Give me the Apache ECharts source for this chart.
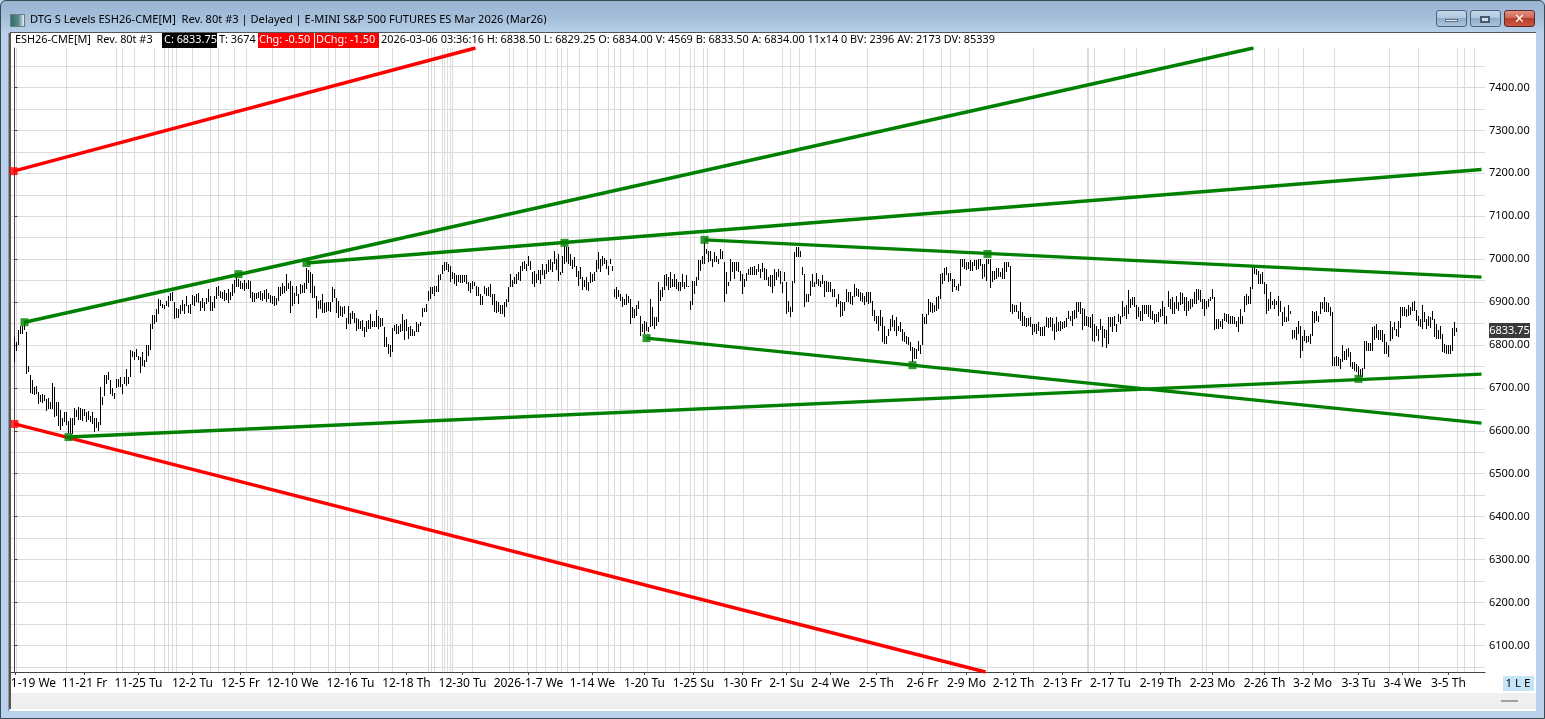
<!DOCTYPE html>
<html><head><meta charset="utf-8">
<script src="https://cdn.jsdelivr.net/npm/echarts@6/dist/echarts.min.js"></script>
<style>
html,body{margin:0;padding:0;background:#fff;overflow:hidden}
#win{position:absolute;left:0;top:0;width:1545px;height:719px;background:#b9d1ea;overflow:hidden}
#frame{position:absolute;left:0;top:0;width:1543px;height:717px;border:1px solid #3a4a55;border-radius:6px 6px 0 0;background:linear-gradient(#9ab5d3 0,#a4bdd9 16px,#b9d1ea 32px,#b9d1ea 100%)}
#client{position:absolute;left:10px;top:32px;width:1526px;height:679px;background:#fff;border-top:1px solid #555;box-sizing:border-box}
#strip{position:absolute;left:10px;top:693px;width:1526px;height:16px;background:#efefef}
#lb{position:absolute;left:9px;top:33px;width:2px;height:676px;background:#555}
#lb2{position:absolute;left:8px;top:33px;width:1px;height:678px;background:#8b98a5}
.btn{position:absolute;top:10px;height:17px;border:1px solid #4f6379;border-radius:3px;background:linear-gradient(#c3d6ea 0,#b0c8e0 45%,#8fadc9 50%,#aac4de 100%);box-sizing:border-box}
#close{background:linear-gradient(#e0907f 0,#d0685a 45%,#b6402c 50%,#c9553f 100%);border-color:#5a2a2a}
#ming{position:absolute;left:1445px;top:19px;width:11px;height:1px;background:#e8eef5;border:1px solid #5d6f83}
#maxg{position:absolute;left:1480px;top:16px;width:6px;height:3px;border:2px solid #47596c;background:#cfdeee}
#icon{position:absolute;left:10px;top:14px;width:13px;height:11px;background:linear-gradient(90deg,#2e6e68 0,#5a8d8f 60%,#e8eef3 100%);border:1px solid #6b7a85}
#badge{position:absolute;left:1503px;top:676px;width:31px;height:15px;background:#c6e4f7}
#dash{position:absolute;left:1501px;top:700px;width:17px;height:2px;background:#a0a0a0}
#main{position:absolute;left:0;top:0;width:1545px;height:719px}
</style></head><body>
<div id="win">
<div id="frame"></div><div id="client"></div><div id="strip"></div><div id="lb2"></div><div id="lb"></div>
<div id="icon"></div>
<div class="btn" style="left:1436px;width:31px"></div><div id="ming"></div>
<div class="btn" style="left:1470px;width:31px"></div><div id="maxg"></div>
<div class="btn" id="close" style="left:1504px;width:31px"></div>
<div id="badge"></div><div id="dash"></div>
<div id="main"></div>
</div>
<script>
var highs=[6818,6806,6834,6845,6845,6857,6830,6752,6731,6718,6703,6705,6690,6684,6686,6684,6674,6676,6666,6712,6701,6666,6666,6649,6630,6643,6643,6622,6630,6630,6653,6649,6656,6653,6651,6651,6643,6645,6635,6643,6630,6630,6620,6703,6678,6729,6731,6736,6718,6700,6687,6721,6721,6725,6709,6726,6744,6726,6788,6787,6783,6791,6775,6771,6783,6764,6799,6799,6848,6869,6869,6884,6907,
6905,6895,6893,6903,6914,6922,6924,6899,6887,6883,6893,6905,6895,6914,6893,6895,6916,6914,6918,6922,6903,6910,6900,6910,6931,6914,6899,6914,6936,6938,6926,6924,6928,6921,6931,6924,6941,6952,6962,6953,6949,6945,6952,6944,6952,6949,6924,6921,6922,6924,6926,6921,6928,6930,6922,6916,6914,6914,6910,6936,6936,6945,6938,6966,6945,6949,6938,6922,6938,6918,6941,6939,6945,6980,6975,6970,6965,6938,6914,6903,6905,6918,6897,6899,6900,6899,6934,6930,6910,6903,6891,6889,6891,6864,6891,6875,6879,6875,6864,6861,
6857,6858,6841,6857,6858,6872,6857,6857,6882,6868,6863,6863,6843,6818,6802,6799,6840,6847,6849,6845,6849,6872,6858,6861,6841,6845,6837,6833,6853,6849,6853,6886,6886,6896,6925,6936,6936,6938,6938,6964,6966,6987,6993,6994,6989,6985,6969,6967,6962,6962,6962,6962,6962,6962,6946,6944,6950,6946,6938,6934,6919,6915,6938,6933,6934,6941,6919,6919,6903,6900,6894,6892,6900,6907,6936,6966,6952,6958,6966,6969,6985,6993,6995,6989,7008,6995,6969,6973,6966,6975,6975,6989,6975,6989,6998,7001,6993,7018,7001,7012,6969,7008,7032,7028,7028,7012,6997,7004,6985,6973,6981,6958,6952,6958,6946,6969,6966,6969,6997,7016,7001,7008,7003,6998,6985,7001,6985,6931,6934,6927,6919,6911,6907,6919,6915,6907,6888,6884,6892,6903,6868,6849,6857,6853,6841,6907,6888,6866,6866,6946,6927,6934,6962,6966,6958,6969,6954,6966,6954,6946,6946,6966,6946,6962,6938,6903,6950,6950,6958,6997,6997,7008,7039,7024,7018,7018,7001,7016,7008,7001,
7024,7020,6993,6969,6946,7001,6993,6993,6993,6993,6973,6966,6954,6967,6977,6981,6981,6985,6977,6989,6977,6990,6980,6977,6958,6962,6962,6977,6969,6977,6973,6946,6969,6946,6903,6888,6948,7016,7028,7028,7020,6981,6966,6919,6919,6950,6966,6946,6967,6954,6950,6962,6950,6950,6946,6946,6931,6931,6907,6919,6903,6900,6900,6931,6923,6923,6915,6942,6933,6931,6923,6921,6915,6923,6923,6923,6903,6882,6868,6868,6882,6866,6845,6822,6837,6861,6871,6858,6865,6845,6853,6837,6830,6822,6818,6806,6795,6793,6791,6809,6799,6872,6866,6872,6907,6900,6897,6892,6911,6913,6966,6967,6980,6981,6967,6967,6954,6954,6938,6942,7001,7001,7001,6993,6993,6997,6993,6997,6997,7001,7001,6989,6989,7001,7001,7001,6973,6973,6980,6980,6969,6980,6993,6993,6993,6983,6896,6894,6892,6880,6900,6876,6868,6863,6863,6865,6849,6849,6849,6853,6841,6841,6845,6866,6863,6866,6863,6849,6865,6853,6855,6853,6857,6863,6880,6868,6880,6882,6900,6900,
6900,6886,6884,6868,6866,6866,6872,6849,6845,6837,6861,6845,6837,6835,6866,6865,6865,6868,6849,6872,6868,6903,6888,6892,6927,6907,6911,6911,6892,6888,6880,6892,6892,6892,6892,6892,6880,6872,6872,6876,6884,6903,6888,6868,6925,6907,6911,6900,6915,6900,6923,6921,6911,6911,6903,6907,6907,6923,6931,6931,6927,6907,6907,6903,6907,6911,6931,6911,6861,6861,6857,6861,6874,6872,6872,6868,6868,6865,6857,6865,6884,6868,6915,6919,6915,6936,6981,6985,6977,6972,6966,6969,6946,6942,6907,6923,6903,6907,6903,6915,6903,6876,6888,6865,6894,6880,6834,6834,6841,6857,6845,6822,6834,6822,6820,6826,6879,6876,6880,6868,6900,6900,6911,6900,6897,6888,6876,6773,6775,6771,6767,6801,6787,6791,6793,6783,6760,6760,6756,6752,6744,6746,6809,6809,6804,6804,6843,6845,6849,6835,6834,6834,6826,6806,6801,6855,6841,6853,6837,6857,6888,6888,6888,6884,6892,6888,6900,6902,6882,6868,6861,6894,6876,6861,6868,6866,6879,6861,6848,6834,6845,6826,6802,6799,6799,6799,6840,6853,6840];
var lows=[6760,6787,6799,6826,6826,6834,6733,6736,6687,6686,6684,6686,6663,6666,6664,6670,6647,6651,6651,6651,6633,6635,6612,6602,6612,6620,6614,6594,6593,6593,6614,6633,6625,6625,6624,6635,6620,6625,6620,6616,6597,6607,6600,6614,6659,6682,6708,6719,6686,6682,6674,6700,6701,6701,6686,6709,6705,6709,6726,6771,6764,6773,6765,6734,6750,6748,6760,6775,6788,6837,6849,6853,6872,
6891,6887,6883,6891,6889,6903,6903,6861,6864,6864,6872,6879,6872,6891,6875,6872,6893,6891,6899,6897,6879,6887,6879,6895,6899,6879,6879,6887,6907,6913,6910,6907,6903,6905,6897,6905,6914,6922,6934,6934,6930,6930,6926,6930,6930,6910,6900,6899,6907,6910,6905,6903,6907,6900,6907,6897,6895,6891,6893,6903,6914,6918,6922,6926,6930,6875,6891,6895,6914,6895,6918,6921,6922,6931,6945,6922,6910,6910,6864,6883,6883,6875,6874,6877,6879,6877,6899,6910,6875,6864,6868,6866,6872,6837,6848,6848,6860,6852,6833,6837,
6837,6833,6818,6830,6837,6837,6841,6841,6841,6837,6841,6845,6795,6796,6779,6773,6783,6833,6826,6826,6830,6833,6812,6833,6814,6820,6820,6820,6830,6830,6845,6866,6876,6876,6902,6907,6919,6913,6923,6923,6952,6966,6973,6975,6969,6946,6954,6942,6938,6946,6944,6944,6946,6942,6925,6921,6931,6938,6915,6915,6892,6894,6919,6915,6913,6911,6894,6876,6874,6876,6872,6872,6866,6888,6900,6934,6934,6941,6942,6952,6950,6973,6977,6973,6985,6975,6942,6936,6944,6952,6942,6962,6954,6966,6969,6975,6969,6989,6975,6950,6964,6967,6989,6993,6989,6985,6977,6981,6958,6938,6954,6928,6934,6927,6925,6944,6946,6950,6969,6977,6969,6985,6989,6977,6962,6989,6973,6911,6907,6911,6902,6888,6892,6892,6897,6849,6863,6863,6868,6884,6822,6830,6826,6833,6830,6841,6845,6837,6845,6853,6903,6911,6928,6938,6927,6933,6934,6934,6931,6925,6925,6934,6931,6934,6934,6882,6892,6919,6938,6952,6972,6989,6989,7011,6993,6995,6981,6993,6993,6989,
7001,7001,6900,6919,6938,6950,6969,6954,6972,6969,6950,6919,6934,6950,6962,6962,6962,6963,6962,6969,6956,6969,6952,6952,6938,6934,6921,6938,6952,6958,6942,6921,6950,6872,6876,6865,6876,6944,7004,7006,7004,6962,6888,6900,6900,6915,6934,6934,6942,6938,6934,6942,6911,6923,6923,6923,6911,6911,6889,6896,6865,6868,6880,6900,6900,6896,6892,6911,6915,6911,6903,6900,6892,6900,6896,6897,6868,6857,6849,6832,6845,6806,6802,6802,6820,6833,6841,6833,6822,6833,6830,6810,6806,6802,6799,6787,6760,6767,6767,6787,6779,6799,6849,6849,6871,6876,6874,6876,6880,6884,6907,6942,6950,6962,6946,6950,6923,6936,6927,6925,6938,6981,6977,6975,6977,6973,6972,6985,6975,6977,6985,6954,6959,6950,6989,6933,6946,6952,6954,6958,6959,6954,6954,6969,6981,6876,6872,6876,6876,6861,6857,6845,6845,6841,6845,6841,6824,6830,6826,6833,6821,6820,6822,6841,6840,6841,6833,6812,6830,6832,6833,6837,6840,6841,6861,6855,6845,6861,6863,6876,
6872,6835,6845,6845,6843,6840,6810,6806,6820,6810,6834,6796,6816,6793,6802,6841,6830,6845,6830,6853,6849,6865,6868,6861,6872,6886,6892,6888,6861,6865,6857,6857,6872,6872,6865,6861,6858,6848,6853,6853,6865,6868,6849,6848,6888,6884,6872,6872,6884,6880,6892,6896,6880,6868,6880,6884,6888,6896,6896,6905,6900,6884,6868,6884,6888,6903,6907,6834,6837,6837,6841,6837,6855,6853,6848,6848,6849,6848,6841,6830,6849,6849,6876,6892,6896,6896,6931,6966,6962,6942,6942,6942,6919,6872,6880,6884,6892,6884,6892,6868,6876,6845,6853,6853,6857,6872,6814,6816,6812,6826,6770,6787,6810,6804,6806,6802,6822,6851,6855,6853,6872,6884,6876,6876,6876,6868,6752,6752,6752,6752,6744,6760,6764,6764,6771,6748,6744,6740,6736,6725,6725,6726,6744,6787,6787,6787,6787,6812,6816,6812,6812,6806,6779,6779,6773,6810,6814,6834,6822,6818,6840,6868,6868,6866,6868,6871,6880,6880,6857,6845,6841,6837,6853,6837,6845,6840,6858,6818,6814,6814,6814,6783,6781,6779,6779,6778,6785,6822,6830];

var tickBars=[0.5,35,62,89,113,139,168,196,224,257,289,315,339.5,364,386,408,431,454,476,499.5,524,548,573,599,625,649,672,694,717];
var tickLabels=['1-19 We','11-21 Fr','11-25 Tu','12-2 Tu','12-5 Fr','12-10 We','12-16 Tu','12-18 Th','12-30 Tu','2026-1-7 We','1-14 We','1-20 Tu','1-25 Su','1-30 Fr','2-1 Su','2-4 We','2-5 Th','2-6 Fr','2-9 Mo','2-12 Th','2-13 Fr','2-17 Tu','2-19 Th','2-23 Mo','2-26 Th','3-2 Mo','3-3 Tu','3-4 We','3-5 Th'];
var sessionBars=[1,26,51,54,60,70,75,77,79,81,89,98,102,110,116,129,140,148,157,160.5,167.5,182,189,207,208.5,210,214,215,216.5,218,219,229,247.5,249.5,256.5,261,265.5,271.5,273.5,276.5,282.5,291.5,297,300,303,309.5,316.5,325.5,332.5,338,340,344.5,346.5,355,364.5,384,388,392.5,400.5,426.5,454.5,463.5,468,477.5,486.5,509.5,536.5,537,540,555,561,575,594,596,607,619,625,632,644.5,660,687.5,702,721.5,725,730];
var priceLabels=[6100,6200,6300,6400,6500,6600,6700,6800,6900,7000,7100,7200,7300,7400];
var priceGrid=[6050,6100,6150,6200,6250,6300,6350,6400,6450,6500,6550,6600,6650,6700,6750,6800,6850,6900,6950,7000,7050,7100,7150,7200,7250,7300,7350,7400,7450];
var lastPrice=6833.75;

var redUpper=[[-0.5,7205],[230.5,7492]];
var redLower=[[0,6616],[485.5,6038]];
var greenUpper=[[5,6853],[619.5,7492]];
var greenResist=[[146,6991],[733.5,7209]];
var greenFall=[[345,7045],[733.5,6958]];
var greenFallLow=[[316,6816],[733.5,6618]];
var greenBase=[[27,6585.5],[733.5,6732]];
var redAnchors=[[-0.5,7205],[0,6616]];
var greenAnchors=[[5,6853],[27,6585.5],[112,6965],[146,6991],[275,7038],[316,6816],[345,7045],[449,6753],[486.5,7012],[672,6721]];

var FONT='"Noto Sans"';
var barRows=highs.map(function(h,i){return [i,h,lows[i]];});
function lineSeries(d,c){return {type:'line',data:d,showSymbol:false,symbol:'none',silent:true,clip:true,z:4,lineStyle:{color:c,width:3.4,cap:'butt'}};}
function anchorSeries(d,c){return {type:'scatter',data:d,symbol:'rect',symbolSize:8,silent:true,clip:false,z:5,itemStyle:{color:c}};}

var chart=echarts.init(document.getElementById('main'),null,{renderer:'canvas',width:1545,height:719});
var GL=11,GT=48,GW=1474,GH=624;
var YMIN=6038,YMAX=7492;
function txt(x,y,s,o){o=o||{};return {type:'text',x:x,y:y,silent:true,z:20,style:{text:s,fill:o.fill||'#000',font:(o.size||10.9)+'px '+FONT,textVerticalAlign:'middle',textAlign:o.align||'left'}};}
var option={
 animation:false,backgroundColor:'transparent',
 grid:{left:GL,top:GT,width:GW,height:GH,show:false},
 xAxis:[{type:'value',min:-1.75,max:735.25,position:'bottom',
   axisLine:{show:true,lineStyle:{color:'#444',width:1}},
   axisTick:{show:true,length:3,lineStyle:{color:'#444'},customValues:tickBars},
   splitLine:{show:false},
   axisLabel:{show:true,customValues:tickBars,margin:6,color:'#000',fontFamily:FONT,fontSize:12,hideOverlap:false,
     formatter:function(v){var k=tickBars.indexOf(v);if(k===0)return '{f|'+tickLabels[0]+'}';return tickLabels[k];},
     rich:{f:{padding:[0,0,0,36],fontFamily:FONT,fontSize:12,color:'#000'}}}},
  {type:'value',min:-1.75,max:735.25,position:'bottom',
   axisLine:{show:false},axisLabel:{show:false},
   axisTick:{show:false,customValues:sessionBars},
   splitLine:{show:true,lineStyle:{color:'#dcdcdc',width:1}}}],
 yAxis:[{type:'value',min:YMIN,max:YMAX,position:'right',
   axisLine:{show:true,lineStyle:{color:'#444',width:1}},
   axisTick:{show:true,length:3,lineStyle:{color:'#444'},customValues:priceLabels},
   splitLine:{show:false},
   axisLabel:{show:true,customValues:priceLabels,margin:4,color:'#000',fontFamily:FONT,fontSize:11,formatter:function(v){return v.toFixed(2);}}},
  {type:'value',min:YMIN,max:YMAX,position:'right',
   axisLine:{show:false},axisLabel:{show:false},
   axisTick:{show:false,customValues:priceGrid},
   splitLine:{show:true,lineStyle:{color:'#dcdcdc',width:1}}}],
 series:[
  {type:'custom',data:barRows,silent:true,z:3,clip:true,encode:{x:0,y:[1,2]},
   renderItem:function(p,api){var a=api.coord([api.value(0),api.value(1)]),b=api.coord([api.value(0),api.value(2)]);var x=Math.floor(a[0])+0.5;
     return {type:'line',shape:{x1:x,y1:Math.round(a[1]),x2:x,y2:Math.round(b[1])},style:{stroke:'#000',lineWidth:1}};}},
  lineSeries(redUpper,'#ff0000'),lineSeries(redLower,'#ff0000'),
  lineSeries(greenUpper,'#008000'),lineSeries(greenResist,'#008000'),lineSeries(greenFall,'#008000'),lineSeries(greenFallLow,'#008000'),lineSeries(greenBase,'#008000'),
  anchorSeries(redAnchors,'#ff0000'),anchorSeries(greenAnchors,'#008000')
 ],
 graphic:[
  txt(30,20,'DTG S Levels ESH26-CME[M]  Rev. 80t #3 | Delayed | E-MINI S&P 500 FUTURES ES Mar 2026 (Mar26)',{size:11.1}),
  txt(15,40,'ESH26-CME[M]  Rev. 80t #3'),
  {type:'rect',silent:true,z:19,shape:{x:162,y:33,width:55,height:15},style:{fill:'#000'}},
  txt(164,40,'C: 6833.75',{fill:'#fff'}),
  txt(219,40,'T: 3674'),
  {type:'rect',silent:true,z:19,shape:{x:258,y:33,width:56,height:15},style:{fill:'#ff0000'}},
  txt(259,40,'Chg: -0.50',{fill:'#fff'}),
  {type:'rect',silent:true,z:19,shape:{x:315,y:33,width:64,height:15},style:{fill:'#ff0000'}},
  txt(316,40,'DChg: -1.50',{fill:'#fff'}),
  txt(381,40,'2026-03-06 03:36:16 H: 6838.50 L: 6829.25 O: 6834.00 V: 4569 B: 6833.50 A: 6834.00 11x14 0 BV: 2396 AV: 2173 DV: 85339'),
  txt(1518,683.5,'1 L E',{align:'center',size:11.5}),
  txt(1519.5,19,'✕',{align:'center',fill:'#fff',size:13})
 ]
};
chart.setOption(option);
var py=chart.convertToPixel({yAxisIndex:0},lastPrice);
chart.setOption({graphic:option.graphic.concat([
  {type:'rect',silent:true,z:19,shape:{x:1489,y:Math.round(py)-7,width:41,height:15},style:{fill:'#3a3a3a'}},
  txt(1509.5,Math.round(py)+0.5,lastPrice.toFixed(2),{fill:'#fff',align:'center',size:11})
])},{replaceMerge:['graphic']});
</script></body></html>
